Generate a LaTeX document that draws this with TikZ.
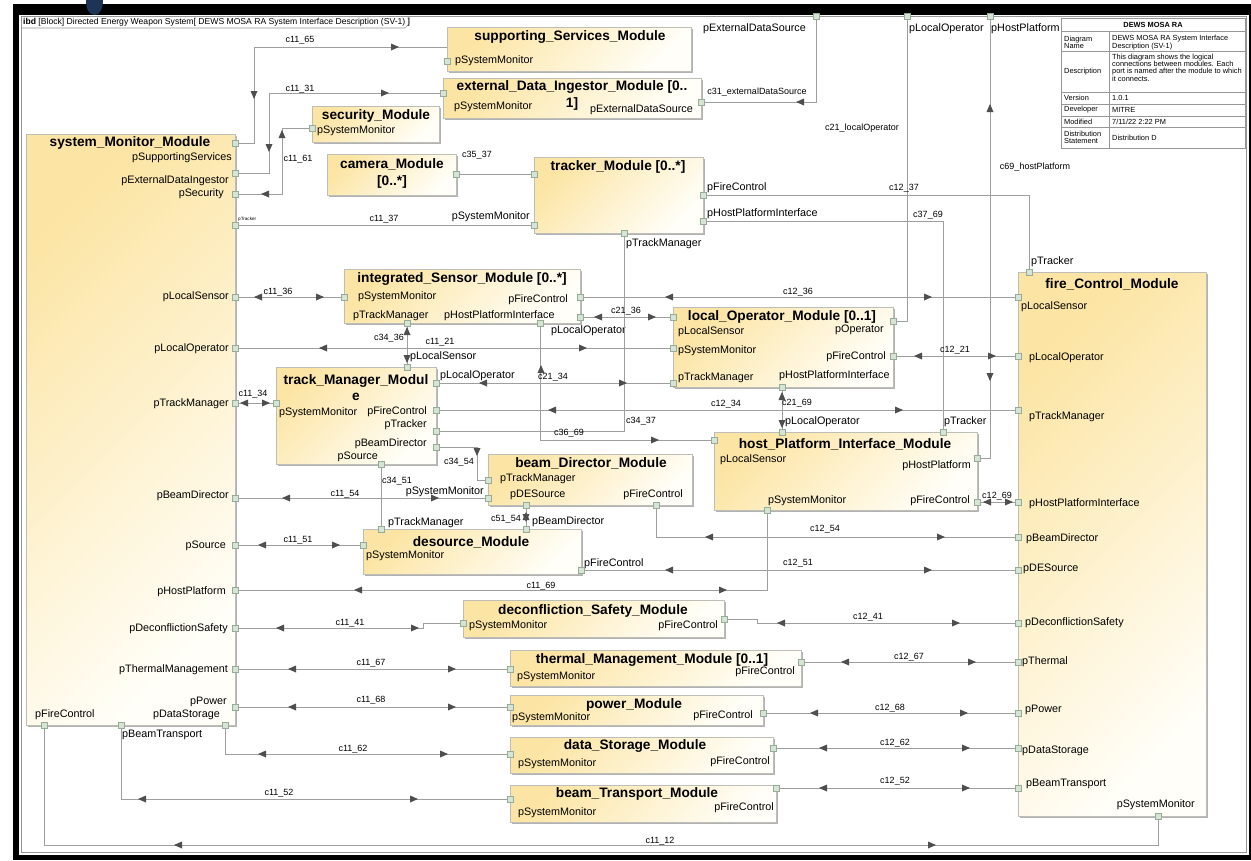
\documentclass[tikz,border=0pt]{standalone}
\usepackage{fontspec}
\setmainfont{Liberation Sans}
\usetikzlibrary{shadows}

\definecolor{modY}{RGB}{252,229,164}
\definecolor{modW}{RGB}{255,254,248}
\definecolor{modEdge}{RGB}{190,190,184}
\definecolor{portFill}{RGB}{214,228,214}
\definecolor{portEdge}{RGB}{150,172,150}
\definecolor{wireGray}{RGB}{158,158,158}
\definecolor{tipGray}{RGB}{78,78,78}
\definecolor{frameGray}{RGB}{150,150,150}
\definecolor{navyBlob}{RGB}{30,52,86}

\tikzset{
  module/.style={draw=modEdge, line width=0.8pt, top color=modY, bottom color=modW,
    shading angle=45, inner sep=0pt,
    drop shadow={shadow xshift=1.6pt, shadow yshift=-1.6pt, fill=black, opacity=0.3}},
  port/.style={rectangle, draw=portEdge, fill=portFill, line width=0.5pt,
    minimum size=6pt, inner sep=0pt},
  wire/.style={draw=wireGray, line width=0.8pt},
  ttl/.style={font=\fontsize{13.7}{16.5}\selectfont\bfseries, inner sep=0pt, align=center},
  plab/.style={font=\fontsize{10.8}{12}\selectfont, inner sep=0pt},
  clab/.style={font=\fontsize{9}{10}\selectfont, inner sep=0pt},
  tcell/.style={font=\fontsize{7.4}{7.3}\selectfont, inner sep=0pt, align=left, anchor=west},
  mk/.pic={\fill[tipGray] (4,0) -- (-4,3.5) -- (-4,-3.5) -- cycle;}
}

% module box from its top-left to its bottom-right corner
\newcommand\modbox[5]{\node[module, anchor=north west,
  minimum width={(#4)-(#2)}, minimum height={(#5)-(#3)}] (#1) at (#2,#3) {};}
\newcommand\portat[3]{\coordinate (#1) at (#2,#3);}
\newcommand\lbW[4]{\node[plab, anchor=west] (#1) at (#2,#3) {#4};}
\newcommand\lbE[4]{\node[plab, anchor=east] (#1) at (#2,#3) {#4};}
\newcommand\cnl[4]{\node[clab] (#1) at (#2,#3) {#4};}
\newcommand\mkR[2]{\pic[rotate=0] at (#1,#2) {mk};}
\newcommand\mkL[2]{\pic[rotate=180] at (#1,#2) {mk};}
\newcommand\mkU[2]{\pic[rotate=90] at (#1,#2) {mk};}
\newcommand\mkD[2]{\pic[rotate=-90] at (#1,#2) {mk};}

\begin{document}
\begin{tikzpicture}[x=1pt, y=-1pt]
\useasboundingbox (0,0) rectangle (1251,860);

% window border
\fill[black] (13,4) rectangle (1251,860);
\fill[white] (19,15) rectangle (1249,855);
\fill[navyBlob] (86,0) .. controls (86,9) and (89,15) .. (95,15)
  .. controls (100,15) and (103,8) .. (103,0) -- cycle;

% diagram frame and its name tab
\draw[frameGray, line width=0.6pt] (21,16) rectangle (1246,852);
\draw[frameGray, line width=0.6pt] (21,28) -- (405,28) -- (409,24) -- (409,16);
\node[anchor=west, font=\fontsize{8.6}{9}\selectfont, inner sep=0pt] (hdr) at (23,22)
  {\textbf{ibd} [Block] Directed Energy Weapon System[ DEWS MOSA RA System Interface Description (SV-1) ]};

% information table
\draw[frameGray, line width=0.6pt] (1061,18) rectangle (1245,148);
\foreach \yy in {31,51,92,104,116,127} \draw[frameGray, line width=0.5pt] (1061,\yy) -- (1245,\yy);
\draw[frameGray, line width=0.5pt] (1109,31) -- (1109,148);
\node[tcell, anchor=center, font=\fontsize{7.4}{7.3}\selectfont\bfseries] (tbT) at (1153,24.5) {DEWS MOSA RA};
\node[tcell] (tbA) at (1064,42.5) {Diagram\\Name};
\node[tcell] (tbB) at (1112,42.5) {DEWS MOSA RA System Interface\\Description (SV-1)};
\node[tcell] (tbC) at (1064,72) {Description};
\node[tcell] (tbD) at (1112,67.5) {This diagram shows the logical\\connections between modules. Each\\port is named after the module to which\\it connects.};
\node[tcell] (tbE) at (1064,98) {Version};
\node[tcell] (tbF) at (1112,98) {1.0.1};
\node[tcell] (tbG) at (1064,110) {Developer};
\node[tcell] (tbH) at (1112,110) {MITRE};
\node[tcell] (tbI) at (1064,122) {Modified};
\node[tcell] (tbJ) at (1112,122) {7/11/22 2:22 PM};
\node[tcell] (tbK) at (1064,137.5) {Distribution\\Statement};
\node[tcell] (tbL) at (1112,138) {Distribution D};

% modules
\modbox{sm}{26}{134}{235}{725}
\modbox{ssm}{447}{27}{691}{71}
\modbox{edi}{443}{78}{701}{118}
\modbox{sec}{312}{106}{439}{142}
\modbox{cam}{327}{154}{456}{195}
\modbox{trk}{534}{157}{703}{233}
\modbox{ism}{344}{269}{580}{323}
\modbox{lom}{673}{307}{893}{387}
\modbox{tmm}{276}{367}{436}{464}
\modbox{bdm}{488}{454}{692}{505}
\modbox{hpi}{714}{432}{977}{510}
\modbox{des}{363}{529}{581}{574}
\modbox{fcm}{1018}{272}{1206}{816}
\modbox{dsm}{463}{600}{724}{637}
\modbox{thm}{510}{650}{801}{686}
\modbox{pwm}{510}{695}{763}{725}
\modbox{dst}{510}{737}{773}{773}
\modbox{btm}{510}{785}{776}{822}

% module titles
\node[ttl] (smT) at (130,143) {system\_Monitor\_Module};
\node[ttl] (ssmT) at (570,37) {supporting\_Services\_Module};
\node[ttl] (ediT) at (572,95.5) {external\_Data\_Ingestor\_Module [0..\\{}1]};
\node[ttl] (secT) at (376,116) {security\_Module};
\node[ttl] (camT) at (392,173.5) {camera\_Module\\{}[0..*]};
\node[ttl] (trkT) at (618,167) {tracker\_Module [0..*]};
\node[ttl] (ismT) at (462,279) {integrated\_Sensor\_Module [0..*]};
\node[ttl] (lomT) at (782,317) {local\_Operator\_Module [0..1]};
\node[ttl] (tmmT) at (356,387.5) {track\_Manager\_Modul\\{}e};
\node[ttl] (bdmT) at (591,463) {beam\_Director\_Module};
\node[ttl] (hpiT) at (845,444) {host\_Platform\_Interface\_Module};
\node[ttl] (desT) at (471,542) {desource\_Module};
\node[ttl] (fcmT) at (1112,284) {fire\_Control\_Module};
\node[ttl] (dsmT) at (593,611) {deconfliction\_Safety\_Module};
\node[ttl] (thmT) at (652,660) {thermal\_Management\_Module [0..1]};
\node[ttl] (pwmT) at (634,705) {power\_Module};
\node[ttl] (dstT) at (635,746) {data\_Storage\_Module};
\node[ttl] (btmT) at (637,794) {beam\_Transport\_Module};

% port labels
\lbE{lsm1}{232}{158}{pSupportingServices}
\lbE{lsm2}{229}{181}{pExternalDataIngestor}
\lbE{lsm3}{224}{194}{pSecurity}
\node[anchor=west, font=\fontsize{4.6}{5}\selectfont, inner sep=0pt] (lsm4) at (238,219) {pTracker};
\lbE{lsm5}{229}{297}{pLocalSensor}
\lbE{lsm6}{229}{349}{pLocalOperator}
\lbE{lsm7}{229}{404}{pTrackManager}
\lbE{lsm8}{229}{496}{pBeamDirector}
\lbE{lsm9}{226}{546}{pSource}
\lbE{lsm10}{226}{592}{pHostPlatform}
\lbE{lsm11}{228}{629}{pDeconflictionSafety}
\lbE{lsm12}{228}{670}{pThermalManagement}
\lbE{lsm13}{227}{702}{pPower}
\lbE{lsm14}{220}{715}{pDataStorage}
\lbW{lsm15}{35}{715}{pFireControl}
\lbW{lsm16}{122}{735}{pBeamTransport}

\lbW{lssm}{455}{61}{pSystemMonitor}
\lbW{ledi1}{454}{107}{pSystemMonitor}
\lbE{ledi2}{693}{110}{pExternalDataSource}
\lbW{lsec}{317}{131}{pSystemMonitor}
\lbE{ltrk1}{530}{217}{pSystemMonitor}
\lbW{ltrk2}{707}{188}{pFireControl}
\lbW{ltrk3}{707}{214}{pHostPlatformInterface}
\lbW{ltrk4}{626}{244}{pTrackManager}
\lbW{lfr1}{703}{29}{pExternalDataSource}
\lbW{lfr2}{909}{29}{pLocalOperator}
\lbW{lfr3}{991}{29}{pHostPlatform}

\lbW{lism1}{358}{297}{pSystemMonitor}
\lbE{lism2}{568}{300}{pFireControl}
\lbW{lism3}{353}{316}{pTrackManager}
\lbW{lism4}{444}{316}{pHostPlatformInterface}
\lbW{lism5}{551}{331}{pLocalOperator}

\lbW{llom1}{678}{332}{pLocalSensor}
\lbW{llom2}{678}{351}{pSystemMonitor}
\lbW{llom3}{678}{378}{pTrackManager}
\lbE{llom4}{884}{330}{pOperator}
\lbE{llom5}{886}{357}{pFireControl}
\lbW{llom6}{779}{376}{pHostPlatformInterface}

\lbW{ltmm1}{279}{413}{pSystemMonitor}
\lbW{ltmm2}{410}{357}{pLocalSensor}
\lbW{ltmm3}{440}{376}{pLocalOperator}
\lbE{ltmm4}{427}{412}{pFireControl}
\lbE{ltmm5}{427}{425}{pTracker}
\lbE{ltmm6}{427}{444}{pBeamDirector}
\lbE{ltmm7}{378}{457}{pSource}

\lbW{lbdm1}{500}{479}{pTrackManager}
\lbE{lbdm2}{484}{492}{pSystemMonitor}
\lbW{lbdm3}{510}{495}{pDESource}
\lbE{lbdm4}{683}{495}{pFireControl}

\lbW{ldes1}{388}{523}{pTrackManager}
\lbW{ldes2}{532}{522}{pBeamDirector}
\lbW{ldes3}{366}{556}{pSystemMonitor}
\lbW{ldes4}{584}{564}{pFireControl}

\lbW{lhpi1}{785}{422}{pLocalOperator}
\lbW{lhpi2}{944}{422}{pTracker}
\lbW{lhpi3}{720}{460}{pLocalSensor}
\lbE{lhpi4}{971}{466}{pHostPlatform}
\lbW{lhpi5}{768}{501}{pSystemMonitor}
\lbE{lhpi6}{970}{501}{pFireControl}

\lbW{lfcm1}{1031}{262}{pTracker}
\lbW{lfcm2}{1021}{307}{pLocalSensor}
\lbW{lfcm3}{1029}{358}{pLocalOperator}
\lbW{lfcm4}{1029}{417}{pTrackManager}
\lbW{lfcm5}{1029}{504}{pHostPlatformInterface}
\lbW{lfcm6}{1026}{539}{pBeamDirector}
\lbW{lfcm7}{1023}{569}{pDESource}
\lbW{lfcm8}{1025}{623}{pDeconflictionSafety}
\lbW{lfcm9}{1022}{662}{pThermal}
\lbW{lfcm10}{1025}{710}{pPower}
\lbW{lfcm11}{1022}{751}{pDataStorage}
\lbW{lfcm12}{1026}{784}{pBeamTransport}
\lbE{lfcm13}{1195}{805}{pSystemMonitor}

\lbW{ldsm1}{469}{626}{pSystemMonitor}
\lbE{ldsm2}{718}{626}{pFireControl}
\lbW{lthm1}{517}{677}{pSystemMonitor}
\lbE{lthm2}{795}{672}{pFireControl}
\lbW{lpwm1}{512}{718}{pSystemMonitor}
\lbE{lpwm2}{753}{716}{pFireControl}
\lbW{ldst1}{518}{764}{pSystemMonitor}
\lbE{ldst2}{770}{762}{pFireControl}
\lbW{lbtm1}{518}{813}{pSystemMonitor}
\lbE{lbtm2}{774}{808}{pFireControl}

% port positions
\portat{smSS}{235}{143}  \portat{smEDI}{235}{173} \portat{smSec}{235}{194}
\portat{smTrk}{235}{225} \portat{smLS}{235}{297}  \portat{smLO}{235}{348}
\portat{smTM}{235}{403}  \portat{smBD}{235}{498}  \portat{smSrc}{235}{545}
\portat{smHP}{235}{590}  \portat{smDS}{235}{628}  \portat{smTh}{235}{669}
\portat{smPw}{235}{707}  \portat{smDSt}{225}{725} \portat{smBT}{121}{725}
\portat{smFC}{44}{725}
\portat{ssmSM}{447}{61}  \coordinate (ssmIn) at (447,47);
\portat{ediSM}{443}{93}  \portat{ediEDS}{701}{102}
\portat{secSM}{312}{128}
\portat{camP}{456}{174}
\portat{trkCam}{534}{174} \portat{trkSM}{534}{225} \portat{trkFC}{703}{195}
\portat{trkHPI}{703}{221} \portat{trkTM}{624}{233}
\portat{fEDS}{816}{16} \portat{fLO}{907}{16} \portat{fHP}{990}{16}
\portat{ismSM}{344}{297} \portat{ismTM}{407}{323} \portat{ismHPI}{540}{323}
\portat{ismFC}{580}{297} \portat{ismLO}{580}{317}
\portat{lomLS}{673}{317} \portat{lomSM}{673}{348} \portat{lomTM}{673}{383}
\portat{lomOp}{893}{321} \portat{lomFC}{893}{356} \portat{lomHPI}{782}{387}
\portat{tmmSM}{276}{403} \portat{tmmLS}{407}{367} \portat{tmmLO}{436}{383}
\portat{tmmFC}{436}{410} \portat{tmmTrk}{436}{431} \portat{tmmBD}{436}{447}
\portat{tmmSrc}{381}{464}
\portat{bdmTM}{488}{480} \portat{bdmSM}{488}{498} \portat{bdmDES}{526}{505}
\portat{bdmFC}{656}{505}
\portat{hpiLS}{714}{440} \portat{hpiLO}{782}{432} \portat{hpiTrk}{943}{432}
\portat{hpiHP}{977}{458} \portat{hpiFC}{977}{502} \portat{hpiSM}{767}{510}
\portat{desTM}{381}{529} \portat{desBD}{526}{529} \portat{desSM}{363}{545}
\portat{desFC}{581}{570}
\portat{fcmTrk}{1029}{272} \portat{fcmLS}{1018}{297} \portat{fcmLO}{1018}{356}
\portat{fcmTM}{1018}{410}  \portat{fcmHPI}{1018}{502} \portat{fcmBD}{1018}{537}
\portat{fcmDES}{1018}{570} \portat{fcmDS}{1018}{623} \portat{fcmTh}{1018}{662}
\portat{fcmPw}{1018}{713}  \portat{fcmDSt}{1018}{748} \portat{fcmBT}{1018}{788}
\portat{fcmSM}{1158}{816}
\portat{dsmSM}{463}{623} \portat{dsmFC}{724}{619}
\portat{thmSM}{510}{669} \portat{thmFC}{801}{662}
\portat{pwmSM}{510}{707} \portat{pwmFC}{763}{713}
\portat{dstSM}{510}{754} \portat{dstFC}{773}{748}
\portat{btmSM}{510}{799} \portat{btmFC}{776}{788}

% connectors
\draw[wire] (smSS) -- (254,143) |- (ssmIn);
\draw[wire] (smEDI) -- (269,173) |- (ediSM);
\draw[wire] (smSec) -- (282,194) |- (secSM);
\draw[wire] (camP) -- (trkCam);
\draw[wire] (smTrk) -- (trkSM);
\draw[wire] (trkFC) -| (fcmTrk);
\draw[wire] (trkHPI) -| (hpiTrk);
\draw[wire] (fEDS) |- (ediEDS);
\draw[wire] (fLO) |- (lomOp);
\draw[wire] (fHP) |- (hpiHP);
\draw[wire] (smLS) -- (ismSM);
\draw[wire] (ismFC) -- (fcmLS);
\draw[wire] (ismLO) -- (lomLS);
\draw[wire] (smLO) -- (lomSM);
\draw[wire] (lomFC) -- (fcmLO);
\draw[wire] (tmmLO) -- (lomTM);
\draw[wire] (ismTM) -- (tmmLS);
\draw[wire] (ismHPI) |- (hpiLS);
\draw[wire] (smTM) -- (tmmSM);
\draw[wire] (tmmFC) -- (fcmTM);
\draw[wire] (tmmTrk) -| (trkTM);
\draw[wire] (tmmBD) -- (477,447) |- (bdmTM);
\draw[wire] (tmmSrc) -- (desTM);
\draw[wire] (lomHPI) -- (hpiLO);
\draw[wire] (smBD) -- (bdmSM);
\draw[wire] (bdmDES) -- (desBD);
\draw[wire] (bdmFC) |- (fcmBD);
\draw[wire] (smSrc) -- (desSM);
\draw[wire] (desFC) -- (fcmDES);
\draw[wire] (smHP) -| (hpiSM);
\draw[wire] (hpiFC) -- (fcmHPI);
\draw[wire] (smDS) -- (423,628) |- (dsmSM);
\draw[wire] (dsmFC) -- (757,619) |- (fcmDS);
\draw[wire] (smTh) -- (thmSM);
\draw[wire] (thmFC) -- (fcmTh);
\draw[wire] (smPw) -- (pwmSM);
\draw[wire] (pwmFC) -- (fcmPw);
\draw[wire] (smDSt) |- (dstSM);
\draw[wire] (dstFC) -- (fcmDSt);
\draw[wire] (smBT) |- (btmSM);
\draw[wire] (btmFC) -- (fcmBT);
\draw[wire] (fcmSM) -- (1158,845) -| (smFC);

% port squares
\foreach \p in {smSS,smEDI,smSec,smTrk,smLS,smLO,smTM,smBD,smSrc,smHP,smDS,smTh,smPw,smDSt,smBT,smFC,
  ssmSM,ediSM,ediEDS,secSM,camP,trkCam,trkSM,trkFC,trkHPI,trkTM,fEDS,fLO,fHP,
  ismSM,ismTM,ismHPI,ismFC,ismLO,lomLS,lomSM,lomTM,lomOp,lomFC,lomHPI,
  tmmSM,tmmLS,tmmLO,tmmFC,tmmTrk,tmmBD,tmmSrc,bdmTM,bdmSM,bdmDES,bdmFC,
  hpiLS,hpiLO,hpiTrk,hpiHP,hpiFC,hpiSM,desTM,desBD,desSM,desFC,
  fcmTrk,fcmLS,fcmLO,fcmTM,fcmHPI,fcmBD,fcmDES,fcmDS,fcmTh,fcmPw,fcmDSt,fcmBT,fcmSM,
  dsmSM,dsmFC,thmSM,thmFC,pwmSM,pwmFC,dstSM,dstFC,btmSM,btmFC}
  {\node[port] (sq-\p) at (\p) {};}

% direction marks along the connectors
\mkD{254}{95}  \mkR{395}{47}
\mkD{269}{148} \mkR{385}{93}
\mkL{265}{194} \mkU{282}{134}
\mkL{800}{102}
\mkU{990}{108} \mkD{990}{377}
\mkL{258}{297} \mkR{320}{297}
\mkL{669}{297} \mkR{928}{297}
\mkL{598}{317} \mkR{652}{317}
\mkL{323}{348} \mkR{583}{348}
\mkL{918}{356} \mkR{992}{356}
\mkL{483}{383} \mkR{623}{383}
\mkU{407}{331} \mkD{407}{359}
\mkU{541}{369} \mkR{655}{440}
\mkL{244}{403} \mkR{266}{403}
\mkL{552}{410} \mkR{899}{410}
\mkD{477}{452}
\mkU{782}{396} \mkD{782}{424}
\mkL{286}{498} \mkR{435}{498}
\mkU{526}{516} \mkD{526}{518}
\mkL{709}{537} \mkR{941}{537}
\mkL{262}{545} \mkR{336}{545}
\mkL{669}{570} \mkR{928}{570}
\mkL{358}{590} \mkR{723}{590}
\mkL{987}{502} \mkR{1009}{502}
\mkL{280}{628} \mkR{415}{628}
\mkL{781}{623} \mkR{956}{623}
\mkL{292}{669} \mkR{452}{669}
\mkL{845}{662} \mkR{972}{662}
\mkL{292}{707} \mkR{452}{707}
\mkL{814}{713} \mkR{964}{713}
\mkL{262}{754} \mkR{444}{754}
\mkL{823}{748} \mkR{966}{748}
\mkL{142}{799} \mkR{414}{799}
\mkL{823}{788} \mkR{966}{788}
\mkL{178}{845} \mkR{932}{845}

% connector names
\cnl{c1}{300}{40}{c11\_65}
\cnl{c2}{300}{89}{c11\_31}
\cnl{c3}{298}{159}{c11\_61}
\cnl{c4}{477}{155}{c35\_37}
\cnl{c5}{384}{219}{c11\_37}
\cnl{c6}{904}{188}{c12\_37}
\cnl{c7}{928}{215}{c37\_69}
\cnl{c8}{757}{92}{c31\_externalDataSource}
\cnl{c9}{862}{128}{c21\_localOperator}
\cnl{c10}{1035}{167}{c69\_hostPlatform}
\cnl{c11}{278}{292}{c11\_36}
\cnl{c12}{798}{292}{c12\_36}
\cnl{c13}{626}{311}{c21\_36}
\cnl{c14}{440}{342}{c11\_21}
\cnl{c15}{955}{350}{c12\_21}
\cnl{c16}{553}{377}{c21\_34}
\cnl{c17}{389}{338}{c34\_36}
\cnl{c18}{569}{433}{c36\_69}
\cnl{c19}{726}{404}{c12\_34}
\cnl{c20}{641}{421}{c34\_37}
\cnl{c21}{459}{462}{c34\_54}
\cnl{c22}{397}{481}{c34\_51}
\cnl{c23}{797}{403}{c21\_69}
\cnl{c24}{345}{494}{c11\_54}
\cnl{c25}{506}{519}{c51\_54}
\cnl{c26}{825}{529}{c12\_54}
\cnl{c27}{298}{540}{c11\_51}
\cnl{c28}{798}{563}{c12\_51}
\cnl{c29}{541}{586}{c11\_69}
\cnl{c30}{997}{496}{c12\_69}
\cnl{c31}{253}{394}{c11\_34}
\cnl{c32}{350}{623}{c11\_41}
\cnl{c33}{868}{617}{c12\_41}
\cnl{c34}{371}{663}{c11\_67}
\cnl{c35}{909}{657}{c12\_67}
\cnl{c36}{371}{700}{c11\_68}
\cnl{c37}{890}{708}{c12\_68}
\cnl{c38}{353}{749}{c11\_62}
\cnl{c39}{895}{743}{c12\_62}
\cnl{c40}{279}{793}{c11\_52}
\cnl{c41}{895}{781}{c12\_52}
\cnl{c42}{660}{841}{c11\_12}
\end{tikzpicture}
\end{document}
